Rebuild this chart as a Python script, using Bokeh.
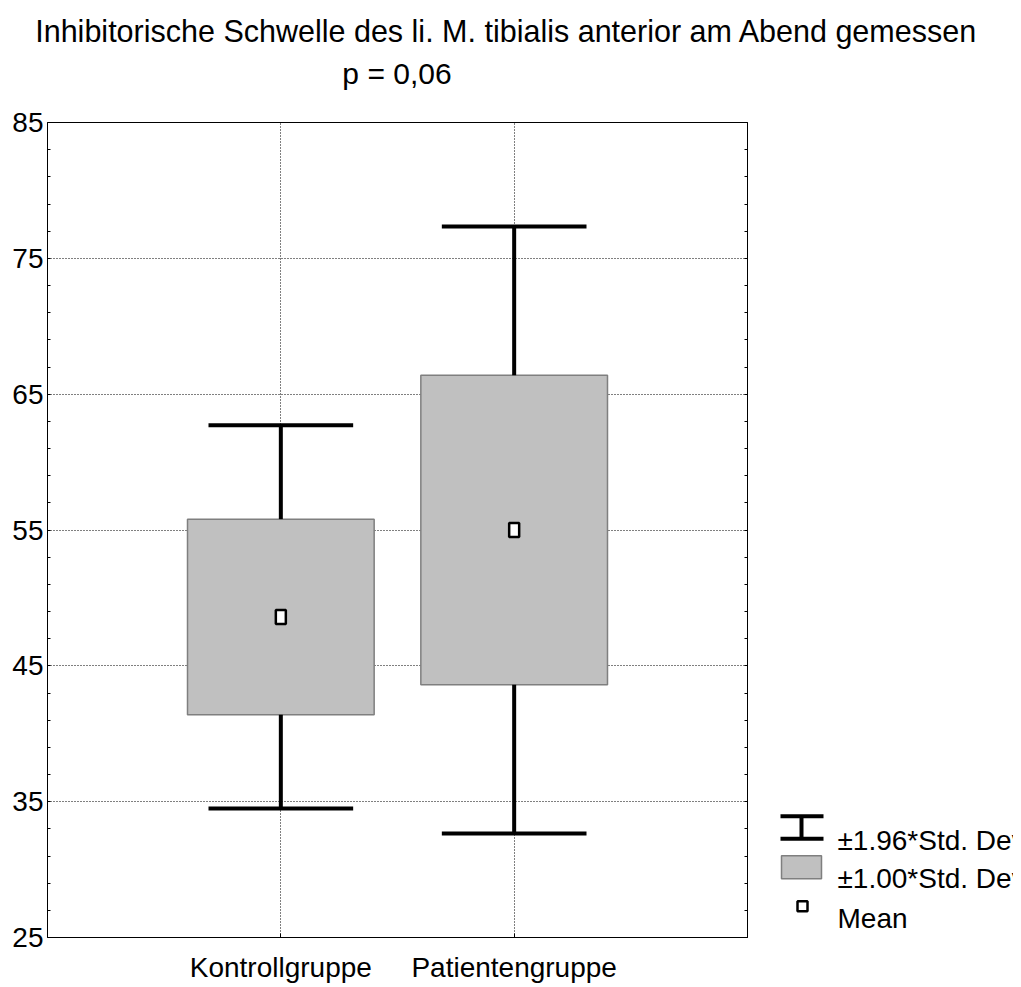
from bokeh.plotting import figure
from bokeh.layouts import column, row
from bokeh.models import Range1d, LinearAxis, FixedTicker, Label, ColumnDataSource
from bokeh.embed import file_html
from bokeh.resources import INLINE

# --- data -------------------------------------------------------------
groups = ["Kontrollgruppe", "Patientengruppe"]
group_x = [1, 2]
means = [48.6, 55.0]
sds = [7.2, 11.4]
box_k = 1.00
whisker_k = 1.96

y_ticks = [25, 35, 45, 55, 65, 75, 85]
y_minor = [t for t in range(25, 86, 2) if (t - 25) % 10]

title_text = "Inhibitorische Schwelle des li. M. tibialis anterior am Abend gemessen"
subtitle_text = "p = 0,06"
legend_labels = ["\u00b11.96*Std. Dev.", "\u00b11.00*Std. Dev.", "Mean"]

FONT = "Liberation Sans"
BOX_FILL = "#c0c0c0"
BOX_LINE = "#7f7f7f"
GRID_DASH = "1 2"
TOTAL_W = 1013

# --- derived statistics ----------------------------------------------
box_lo = [m - box_k * s for m, s in zip(means, sds)]
box_hi = [m + box_k * s for m, s in zip(means, sds)]
wh_lo = [m - whisker_k * s for m, s in zip(means, sds)]
wh_hi = [m + whisker_k * s for m, s in zip(means, sds)]
box_half = 0.40
cap_half = 0.31

src = ColumnDataSource(dict(
    x=group_x, mean=means,
    left=[x - box_half for x in group_x], right=[x + box_half for x in group_x],
    cap_l=[x - cap_half for x in group_x], cap_r=[x + cap_half for x in group_x],
    box_lo=box_lo, box_hi=box_hi, wh_lo=wh_lo, wh_hi=wh_hi,
))

# --- title strip ------------------------------------------------------
tf = figure(width=TOTAL_W, height=100, x_range=Range1d(0, TOTAL_W), y_range=Range1d(100, 0),
            x_axis_type=None, y_axis_type=None, min_border=0, outline_line_color=None,
            toolbar_location=None, output_backend="svg")
tf.add_layout(Label(x=506, y=30, text=title_text, text_align="center", text_baseline="alphabetic",
                    text_font=FONT, text_font_size="30.5px", text_color="black"))
tf.add_layout(Label(x=396.5, y=73, text=subtitle_text, text_align="center", text_baseline="alphabetic",
                    text_font=FONT, text_font_size="30px", text_color="black"))

# --- main box plot ----------------------------------------------------
p = figure(width=760, height=887, x_range=Range1d(0, 3), y_range=Range1d(25, 85),
           min_border_left=47, min_border_right=13, min_border_top=22, min_border_bottom=50,
           toolbar_location=None, output_backend="svg")
p.outline_line_color = "black"
p.outline_line_width = 1
p.background_fill_color = "white"
p.border_fill_color = "white"

y_ticker = FixedTicker(ticks=y_ticks, minor_ticks=y_minor)

p.xaxis.ticker = FixedTicker(ticks=group_x)
p.xaxis.major_label_overrides = {x: g for x, g in zip(group_x, groups)}
p.yaxis.ticker = y_ticker

for ax in (p.xaxis, p.yaxis):
    ax.axis_line_color = "black"
    ax.axis_line_width = 1
    ax.major_tick_line_color = "black"
    ax.minor_tick_line_color = "black"
    ax.major_tick_out = 0
    ax.minor_tick_out = 0
    ax.major_label_text_font = FONT
    ax.major_label_text_font_size = "28px"
    ax.major_label_text_color = "black"

p.xaxis.major_tick_in = 4
p.xaxis.minor_tick_in = 0
p.xaxis.major_label_standoff = 14
p.yaxis.major_tick_in = 3
p.yaxis.minor_tick_in = 3
p.yaxis.major_label_standoff = 4

# right-hand axis: tick marks only
right_axis = LinearAxis(ticker=y_ticker, major_tick_in=3, major_tick_out=0,
                        minor_tick_in=3, minor_tick_out=0, major_label_standoff=0,
                        major_label_overrides={t: "" for t in y_ticks},
                        major_label_text_color=None, axis_line_color="black")
p.add_layout(right_axis, "right")

p.grid.grid_line_color = "black"
p.grid.grid_line_dash = GRID_DASH
p.grid.grid_line_width = 1

# +-1 SD boxes
p.quad(left="left", right="right", bottom="box_lo", top="box_hi", source=src,
       fill_color=BOX_FILL, line_color=BOX_LINE, line_width=1.5)
# +-1.96 SD whiskers
p.segment(x0="x", y0="box_hi", x1="x", y1="wh_hi", source=src, line_color="black", line_width=4)
p.segment(x0="x", y0="box_lo", x1="x", y1="wh_lo", source=src, line_color="black", line_width=4)
p.segment(x0="cap_l", y0="wh_hi", x1="cap_r", y1="wh_hi", source=src, line_color="black", line_width=4)
p.segment(x0="cap_l", y0="wh_lo", x1="cap_r", y1="wh_lo", source=src, line_color="black", line_width=4)
# means
p.rect(x="x", y="mean", width=10, height=14, width_units="screen", height_units="screen",
       source=src, fill_color="white", line_color="black", line_width=2.5)

# --- legend panel -----------------------------------------------------
lg = figure(width=TOTAL_W - 760, height=887, x_range=Range1d(760, TOTAL_W), y_range=Range1d(987, 100),
            x_axis_type=None, y_axis_type=None, min_border=0, outline_line_color=None,
            toolbar_location=None, output_backend="svg")

icon_l, icon_r, icon_c = 780, 823, 801
row_base = [881, 923, 966]
text_x = 837

# whisker swatch
lg.segment(x0=[icon_l, icon_l, icon_c], y0=[855, 879.5, 855],
           x1=[icon_r, icon_r, icon_c], y1=[855, 879.5, 879.5],
           line_color="black", line_width=4)
# box swatch
lg.quad(left=[781], right=[821], top=[898], bottom=[923],
        fill_color=BOX_FILL, line_color=BOX_LINE, line_width=1.5)
# mean swatch
lg.rect(x=[802], y=[953], width=10, height=11, fill_color="white", line_color="black", line_width=2.5)

for lab, yb in zip(legend_labels, row_base):
    lg.add_layout(Label(x=text_x, y=yb, text=lab, text_align="left", text_baseline="alphabetic",
                        text_font=FONT, text_font_size="28px", text_color="black"))

layout = column(tf, row(p, lg))

with open("out.html", "w") as f:
    f.write(file_html(layout, INLINE))
